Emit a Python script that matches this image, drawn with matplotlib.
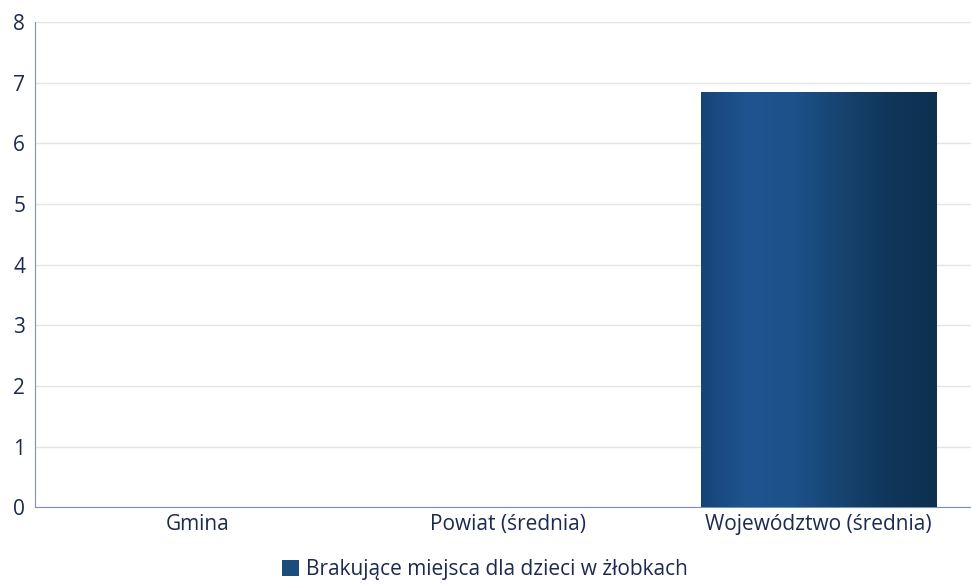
import matplotlib
matplotlib.use("Agg")
import matplotlib.pyplot as plt
import numpy as np
from matplotlib.colors import LinearSegmentedColormap
from matplotlib.patches import Patch

categories = ["Gmina", "Powiat (średnia)", "Województwo (średnia)"]
values = [0, 0, 6.85]
series_name = "Brakujące miejsca dla dzieci w żłobkach"
yticks = [0, 1, 2, 3, 4, 5, 6, 7, 8]

plt.rcParams['font.family'] = ['Open Sans', 'DejaVu Sans']
text_color = "#1c2a4f"

fig = plt.figure(figsize=(9.71, 5.85), dpi=100)
ax = fig.add_axes([0.036, 0.133, 0.964, 0.829])

x = np.arange(len(categories))
width = 0.757
bars = ax.bar(x, values, width=width, color="#174a78", zorder=2)

cmap = LinearSegmentedColormap.from_list(
    "bar", ["#164478", "#1e5590", "#1c5189", "#16436f", "#10365a", "#0e304f"])
grad = np.linspace(0, 1, 256).reshape(1, -1)
for b, v in zip(bars, values):
    if v <= 0:
        continue
    x0, w = b.get_x(), b.get_width()
    im = ax.imshow(grad, cmap=cmap, aspect="auto",
                   extent=[x0, x0 + w, 0, v], zorder=3)
    im.set_clip_path(b)

ax.set_xlim(-0.523, 2.49)
ax.set_ylim(0, 8)
ax.set_yticks(yticks)
ax.set_xticks(x)
ax.set_xticklabels(categories, fontsize=15, color=text_color)
ax.tick_params(axis="y", labelsize=15, colors=text_color, length=0, pad=7)
ax.tick_params(axis="x", length=0, pad=5)
ax.grid(axis="y", color="#e4e4e4", linewidth=1, zorder=0)
for s in ["top", "right"]:
    ax.spines[s].set_visible(False)
ax.spines["left"].set_color("#7f8fb0")
ax.spines["bottom"].set_color("#7f8fb0")
ax.set_axisbelow(True)

handle = Patch(facecolor="#1a4d7c", edgecolor="none")
fig.legend([handle], [series_name], loc="center", bbox_to_anchor=(0.499, 0.026),
           frameon=False, fontsize=15, labelcolor=text_color,
           handlelength=0.85, handleheight=0.85, handletextpad=0.3)

fig.savefig("out.png", dpi=100)
